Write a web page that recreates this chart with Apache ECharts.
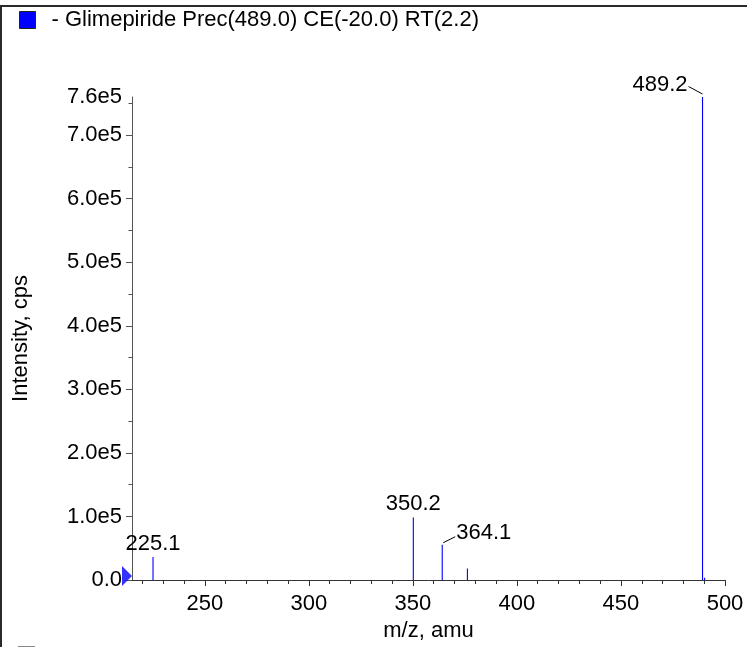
<!DOCTYPE html>
<html>
<head>
<meta charset="utf-8">
<script src="https://cdn.jsdelivr.net/npm/echarts@6/dist/echarts.min.js"></script>
<style>
html,body{margin:0;padding:0;background:#fff;}
#chart{width:747px;height:647px;}
</style>
</head>
<body>
<div id="chart"></div>
<script>
// ---- data ----
const seriesName = '- Glimepiride Prec(489.0) CE(-20.0) RT(2.2)';
const mz        = [225.1, 350.2, 364.1, 376.2, 489.2, 490.2];
const intensity = [36000, 98500, 55500, 18000, 760000, 3500];
const peakLabels = ['225.1', '350.2', '364.1', '', '489.2', ''];
const xMajorTicks = [250, 300, 350, 400, 450, 500];
const xMinorTicks = [220, 230, 240, 260, 270, 280, 290, 310, 320, 330, 340, 360, 370, 380, 390,
                     410, 420, 430, 440, 460, 470, 480, 490];
const yLabelValues = [0, 100000, 200000, 300000, 400000, 500000, 600000, 700000, 760000];
const yMajorTicks = [0, 100000, 200000, 300000, 400000, 500000, 600000, 700000];
const yMinorTicks = [50000, 150000, 250000, 350000, 450000, 550000, 650000, 750000];
const xMin = 215, xMax = 500, yMin = 0, yMax = 760000;

const FONT = '"Liberation Sans", Arial, Helvetica, sans-serif';
const FS = 22;
const peakData = mz.map((m, i) => [m, intensity[i], i]);
// label placement: default directly above; 'right' / 'left' = offset with a leader line
const leaderSide = {2: 'right', 4: 'left'};

const chart = echarts.init(document.getElementById('chart'), null, {renderer: 'canvas'});
const axisColor = '#333';

function yFmt(v) { return v === 0 ? '0.0' : (v / 1e5).toFixed(1) + 'e5'; }

chart.setOption({
  animation: false,
  backgroundColor: '#fff',
  textStyle: {fontFamily: FONT},
  grid: {left: 132, right: 22, top: 97, bottom: 62, containLabel: false},
  legend: {
    left: 19, top: 9, padding: 0,
    itemWidth: 16, itemHeight: 17,
    icon: 'rect',
    data: [{name: seriesName, icon: 'rect',
            itemStyle: {color: '#0000ff', borderColor: '#222', borderWidth: 1}}],
    textStyle: {fontSize: FS, color: '#000', fontFamily: FONT, padding: [2, 0, 0, 11]},
    selectedMode: false
  },
  xAxis: [{
    type: 'value', min: xMin, max: xMax,
    name: 'm/z, amu', nameLocation: 'middle', nameGap: 40,
    nameTextStyle: {fontSize: FS, color: '#000', fontFamily: FONT},
    axisLine: {show: true, onZero: false, lineStyle: {color: axisColor, width: 1}},
    axisTick: {show: true, length: 6, customValues: xMajorTicks, lineStyle: {color: axisColor}},
    axisLabel: {show: true, margin: 13, fontSize: FS, color: '#000', fontFamily: FONT,
                customValues: xMajorTicks},
    splitLine: {show: false}
  }, {
    type: 'value', min: xMin, max: xMax, position: 'bottom',
    axisLine: {show: false},
    axisTick: {show: true, length: 4, customValues: xMinorTicks, lineStyle: {color: axisColor}},
    axisLabel: {show: false},
    splitLine: {show: false}
  }],
  yAxis: [{
    type: 'value', min: yMin, max: yMax,
    name: 'Intensity, cps', nameLocation: 'middle', nameGap: 100, nameRotate: 90,
    nameTextStyle: {fontSize: FS, color: '#000', fontFamily: FONT},
    axisLine: {show: true, onZero: false, lineStyle: {color: '#555', width: 1}},
    axisTick: {show: true, length: 6, customValues: yMajorTicks, lineStyle: {color: '#555'}},
    axisLabel: {show: true, margin: 10, fontSize: FS, color: '#000', fontFamily: FONT,
                customValues: yLabelValues, formatter: yFmt},
    splitLine: {show: false}
  }, {
    type: 'value', min: yMin, max: yMax, position: 'left',
    axisLine: {show: false},
    axisTick: {show: true, length: 3.5, customValues: yMinorTicks, lineStyle: {color: '#555'}},
    axisLabel: {show: false},
    splitLine: {show: false}
  }],
  series: [{
    name: seriesName,
    type: 'custom',
    xAxisIndex: 0, yAxisIndex: 0,
    itemStyle: {color: '#0000ff'},
    data: peakData,
    clip: false,
    renderItem: function (params, api) {
      const x = api.value(0), y = api.value(1), idx = api.value(2);
      const p0 = api.coord([x, 0]);
      const p1 = api.coord([x, y]);
      const px = p0[0];
      const children = [{
        type: 'line',
        shape: {x1: px, y1: p0[1], x2: px, y2: p1[1]},
        style: {stroke: 'rgb(0,0,255)', lineWidth: 1.1, opacity: 1}
      }];
      const txt = peakLabels[idx];
      if (txt) {
        const side = leaderSide[idx];
        const top = p1[1];
        if (side === 'right') {
          children.push({type: 'line', shape: {x1: px + 1, y1: top - 2, x2: px + 13, y2: top - 8},
                         style: {stroke: '#000', lineWidth: 1}});
          children.push({type: 'text', style: {text: txt, x: px + 14, y: top - 12,
                         align: 'left', verticalAlign: 'middle', font: FS + 'px ' + FONT, fill: '#000'}});
        } else if (side === 'left') {
          children.push({type: 'line', shape: {x1: px, y1: top - 3, x2: px - 14, y2: top - 10.5},
                         style: {stroke: '#000', lineWidth: 1}});
          children.push({type: 'text', style: {text: txt, x: px - 15, y: top - 12,
                         align: 'right', verticalAlign: 'middle', font: FS + 'px ' + FONT, fill: '#000'}});
        } else {
          children.push({type: 'text', style: {text: txt, x: px, y: top - 2,
                         align: 'center', verticalAlign: 'bottom', font: FS + 'px ' + FONT, fill: '#000'}});
        }
      }
      return {type: 'group', children: children};
    }
  }, {
    name: 'baseline',
    type: 'scatter',
    xAxisIndex: 0, yAxisIndex: 0,
    data: [[xMin, 0]],
    symbol: 'triangle',
    symbolSize: [20, 10],
    symbolRotate: -90,
    symbolOffset: [-5, -4],
    itemStyle: {color: '#0000ff'},
    clip: false,
    silent: true
  }],
  graphic: [
    {type: 'line', shape: {x1: 0, y1: 6, x2: 747, y2: 6}, style: {stroke: '#2a2a2a', lineWidth: 2}},
    {type: 'line', shape: {x1: 1, y1: 5, x2: 1, y2: 647}, style: {stroke: '#2a2a2a', lineWidth: 2}},
    {type: 'line', shape: {x1: 18, y1: 646.5, x2: 35, y2: 646.5}, style: {stroke: '#888', lineWidth: 1}}
  ]
});
</script>
</body>
</html>
